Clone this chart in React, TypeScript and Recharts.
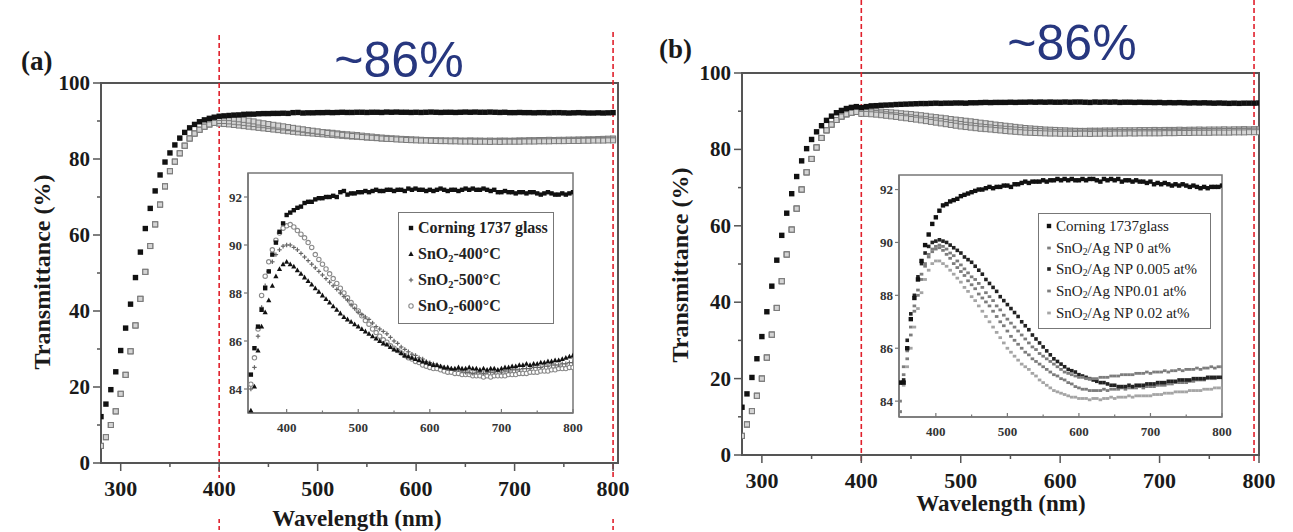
import React from 'react';
import { ScatterChart, Scatter, XAxis, YAxis, ReferenceLine, ReferenceArea } from 'recharts';

const SERIF = '"Liberation Serif", "Times New Roman", serif';
const SANS = '"Liberation Sans", Arial, sans-serif';
const AXIS = '#555';
const RED = '#e0202c';
const NAVY = '#27377f';

// wavelength grids (nm)
const riseWavelengths = [280, 285, 290, 295, 300, 305, 310, 315, 320, 325, 330, 335, 340, 345, 350, 355, 360, 365, 370, 375, 380, 385, 390, 395];
const insetWavelengths = [
  350, 355, 360, 365, 370, 375, 380, 385, 390, 395,
  400, 405, 410, 415, 420, 425, 430, 435, 440, 445,
  450, 455, 460, 465, 470, 475, 480, 485, 490, 495,
  500, 505, 510, 515, 520, 525, 530, 535, 540, 545,
  550, 555, 560, 565, 570, 575, 580, 585, 590, 595,
  600, 605, 610, 615, 620, 625, 630, 635, 640, 645,
  650, 655, 660, 665, 670, 675, 680, 685, 690, 695,
  700, 705, 710, 715, 720, 725, 730, 735, 740, 745,
  750, 755, 760, 765, 770, 775, 780, 785, 790, 795,
  800,
];

// ticks
const mainXTicks = [300, 350, 400, 450, 500, 550, 600, 650, 700, 750, 800];
const mainYTicks = [0, 10, 20, 30, 40, 50, 60, 70, 80, 90, 100];
const insetXTicks = [400, 450, 500, 550, 600, 650, 700, 750, 800];
const insetYTicks = [84, 86, 88, 90, 92];

// panel (a): absorption edge, main plot
const glassRiseA = [12.2, 15.5, 19.3, 24.0, 29.6, 35.5, 41.8, 48.8, 55.5, 61.7, 67.0, 71.6, 75.8, 79.2, 81.6, 83.7, 85.5, 87.0, 88.2, 89.1, 89.8, 90.3, 90.7, 91.0];
const filmRiseA = [4.5, 6.8, 10.0, 13.6, 18.2, 23.2, 29.4, 36.2, 43.2, 50.3, 57.1, 62.8, 68.0, 72.8, 76.8, 79.3, 81.5, 83.5, 85.4, 86.7, 87.7, 88.5, 89.1, 89.5];

// panel (a): inset values
const glassA = [
  84.6, 85.7, 86.6, 87.3, 88.2, 88.9, 89.6, 90.1, 90.55, 90.9,
  91.25, 91.35, 91.45, 91.55, 91.6, 91.75, 91.8, 91.8, 91.9, 91.95,
  91.95, 92.0, 92.0, 92.05, 92.0, 92.2, 92.25, 92.1, 92.15, 92.15,
  92.2, 92.2, 92.25, 92.2, 92.25, 92.3, 92.25, 92.25, 92.3, 92.3,
  92.25, 92.3, 92.3, 92.25, 92.35, 92.3, 92.35, 92.3, 92.3, 92.25,
  92.3, 92.25, 92.3, 92.35, 92.3, 92.25, 92.3, 92.3, 92.25, 92.3,
  92.35, 92.3, 92.35, 92.3, 92.3, 92.35, 92.3, 92.25, 92.3, 92.2,
  92.2, 92.25, 92.2, 92.2, 92.15, 92.2, 92.2, 92.15, 92.2, 92.2,
  92.15, 92.1, 92.15, 92.2, 92.15, 92.1, 92.1, 92.15, 92.1, 92.15,
  92.2,
];
const sno400 = [
  83.1, 84.1, 85.6, 86.6, 87.2, 87.7, 88.3, 88.7, 89.0, 89.2,
  89.3, 89.2, 89.1, 88.95, 88.8, 88.65, 88.5, 88.35, 88.2, 88.05,
  87.9, 87.75, 87.6, 87.45, 87.3, 87.15, 87.0, 86.9, 86.8, 86.7,
  86.6, 86.5, 86.4, 86.3, 86.2, 86.1, 86.0, 85.9, 85.85, 85.75,
  85.65, 85.6, 85.5, 85.4, 85.35, 85.3, 85.25, 85.2, 85.15, 85.1,
  85.05, 85.0, 85.0, 84.95, 84.9, 84.9, 84.85, 84.85, 84.9, 84.85,
  84.85, 84.9, 84.85, 84.85, 84.8, 84.85, 84.8, 84.85, 84.85, 84.8,
  84.85, 84.9, 84.9, 84.95, 84.95, 85.0, 85.0, 85.05, 85.0, 85.05,
  85.05, 85.1, 85.1, 85.15, 85.15, 85.2, 85.2, 85.25, 85.3, 85.35,
  85.4,
];
const sno500 = [
  84.0, 84.9, 86.2, 87.4, 88.3, 88.9, 89.3, 89.6, 89.8, 89.95,
  90.0, 90.0, 89.9, 89.8, 89.65, 89.5, 89.35, 89.2, 89.05, 88.9,
  88.75, 88.6, 88.45, 88.3, 88.15, 88.0, 87.85, 87.7, 87.5, 87.35,
  87.2, 87.1, 87.0, 86.9, 86.75, 86.6, 86.5, 86.4, 86.3, 86.15,
  86.0, 85.9, 85.75, 85.65, 85.55, 85.45, 85.4, 85.3, 85.25, 85.15,
  85.1, 85.05, 85.0, 84.95, 84.9, 84.85, 84.85, 84.8, 84.8, 84.75,
  84.7, 84.7, 84.65, 84.7, 84.7, 84.65, 84.7, 84.7, 84.7, 84.75,
  84.7, 84.75, 84.75, 84.8, 84.8, 84.8, 84.85, 84.85, 84.85, 84.9,
  84.9, 84.9, 84.95, 84.95, 85.0, 85.0, 85.0, 85.05, 85.05, 85.1,
  85.1,
];
const sno600 = [
  84.2, 85.3, 86.5, 87.9, 88.7, 89.3, 89.8, 90.2, 90.5, 90.7,
  90.8, 90.85, 90.75, 90.6, 90.45, 90.3, 90.1, 89.9, 89.6, 89.4,
  89.2, 89.0, 88.8, 88.6, 88.4, 88.2, 88.0, 87.8, 87.6, 87.45,
  87.25, 87.05, 86.85, 86.7, 86.5, 86.35, 86.2, 86.05, 85.95, 85.8,
  85.7, 85.6, 85.5, 85.4, 85.3, 85.25, 85.15, 85.1, 85.0, 84.95,
  84.9, 84.85, 84.85, 84.8, 84.75, 84.7, 84.7, 84.65, 84.65, 84.6,
  84.6, 84.6, 84.55, 84.55, 84.55, 84.5, 84.55, 84.5, 84.55, 84.55,
  84.55, 84.55, 84.6, 84.6, 84.6, 84.65, 84.65, 84.65, 84.7, 84.7,
  84.7, 84.75, 84.75, 84.75, 84.8, 84.8, 84.85, 84.85, 84.85, 84.9,
  84.9,
];

// panel (b): absorption edge, main plot
const glassRiseB = [12.5, 16.0, 20.3, 25.2, 31.0, 37.5, 44.2, 51.0, 57.5, 63.3, 68.4, 72.9, 77.0, 80.2, 82.6, 84.6, 86.2, 87.6, 88.7, 89.6, 90.2, 90.7, 91.0, 91.2];
const filmRiseB = [5.0, 8.0, 11.5, 15.5, 20.0, 25.5, 31.5, 38.5, 45.5, 52.5, 59.0, 64.5, 69.5, 74.0, 77.5, 80.5, 83.0, 85.0, 86.5, 87.7, 88.6, 89.2, 89.6, 89.8];

// panel (b): inset values
const glassB = [
  84.7, 84.7, 86.0, 87.1, 87.9, 88.6, 89.3, 89.9, 90.3, 90.7,
  90.95, 91.2, 91.4, 91.45, 91.55, 91.6, 91.65, 91.75, 91.8, 91.85,
  91.9, 91.95, 92.0, 92.0, 92.05, 92.1, 92.05, 92.1, 92.1, 92.15,
  92.15, 92.1, 92.2, 92.2, 92.25, 92.3, 92.25, 92.3, 92.3, 92.3,
  92.35, 92.3, 92.35, 92.35, 92.4, 92.35, 92.4, 92.35, 92.4, 92.35,
  92.35, 92.4, 92.35, 92.4, 92.4, 92.35, 92.3, 92.4, 92.35, 92.4,
  92.35, 92.4, 92.3, 92.35, 92.35, 92.3, 92.35, 92.3, 92.3, 92.25,
  92.3, 92.2, 92.25, 92.2, 92.25, 92.2, 92.15, 92.2, 92.15, 92.2,
  92.15, 92.1, 92.15, 92.1, 92.05, 92.1, 92.05, 92.1, 92.1, 92.1,
  92.15,
];
const ag0 = [
  84.0, 85.3, 85.9, 86.8, 87.6, 88.2, 88.8, 89.2, 89.55, 89.75,
  89.85, 89.9, 89.85, 89.75, 89.6, 89.5, 89.3, 89.15, 89.0, 88.85,
  88.7, 88.6, 88.45, 88.3, 88.1, 87.95, 87.8, 87.6, 87.45, 87.25,
  87.1, 86.95, 86.8, 86.65, 86.5, 86.35, 86.2, 86.05, 85.95, 85.8,
  85.7, 85.6, 85.5, 85.4, 85.3, 85.2, 85.1, 85.05, 85.0, 84.95,
  84.9, 84.9, 84.85, 84.85, 84.85, 84.85, 84.9, 84.9, 84.9, 84.95,
  84.95, 84.95, 85.0, 85.0, 85.0, 85.0, 85.05, 85.05, 85.05, 85.1,
  85.05, 85.1, 85.1, 85.1, 85.15, 85.1, 85.15, 85.15, 85.2, 85.15,
  85.2, 85.2, 85.2, 85.25, 85.2, 85.25, 85.25, 85.3, 85.25, 85.3,
  85.3,
];
const ag005 = [
  84.7, 84.8, 86.3, 87.3, 88.0, 88.7, 89.2, 89.6, 89.85, 90.0,
  90.05, 90.1, 90.05, 90.0, 89.9, 89.8, 89.7, 89.6, 89.45, 89.35,
  89.25, 89.1, 88.95, 88.8, 88.6, 88.45, 88.3, 88.15, 87.95, 87.8,
  87.65, 87.5, 87.35, 87.2, 87.0, 86.85, 86.7, 86.5, 86.35, 86.2,
  86.05, 85.9, 85.75, 85.6, 85.5, 85.4, 85.3, 85.2, 85.15, 85.1,
  85.0, 84.95, 84.9, 84.85, 84.8, 84.75, 84.7, 84.7, 84.65, 84.6,
  84.6, 84.55, 84.55, 84.55, 84.6, 84.55, 84.6, 84.6, 84.6, 84.65,
  84.65, 84.65, 84.7, 84.7, 84.7, 84.75, 84.75, 84.75, 84.8, 84.8,
  84.8, 84.8, 84.85, 84.85, 84.85, 84.85, 84.9, 84.9, 84.9, 84.9,
  84.9,
];
const ag01 = [
  83.6, 85.0, 85.6, 86.5, 87.4, 88.0, 88.6, 89.1, 89.45, 89.65,
  89.75, 89.8, 89.7, 89.55, 89.4, 89.2, 89.05, 88.9, 88.75, 88.55,
  88.4, 88.25, 88.05, 87.9, 87.75, 87.6, 87.4, 87.2, 87.0, 86.85,
  86.65, 86.45, 86.3, 86.15, 86.0, 85.85, 85.75, 85.6, 85.5, 85.4,
  85.3, 85.2, 85.1, 85.0, 84.95, 84.85, 84.8, 84.7, 84.65, 84.55,
  84.5, 84.45, 84.45, 84.4, 84.4, 84.4, 84.4, 84.45, 84.4, 84.45,
  84.45, 84.45, 84.5, 84.45, 84.5, 84.5, 84.5, 84.55, 84.5, 84.55,
  84.55, 84.55, 84.6, 84.6, 84.6, 84.65, 84.65, 84.7, 84.7, 84.7,
  84.7, 84.75, 84.75, 84.8, 84.8, 84.8, 84.85, 84.85, 84.85, 84.9,
  84.9,
];
const ag02 = [
  83.6, 84.6, 85.3, 86.0, 86.8, 87.5, 88.1, 88.6, 88.95, 89.2,
  89.3, 89.3, 89.2, 89.1, 88.95, 88.8, 88.65, 88.5, 88.3, 88.15,
  87.95, 87.8, 87.6, 87.4, 87.2, 87.0, 86.8, 86.6, 86.4, 86.2,
  86.0, 85.85, 85.7, 85.55, 85.4, 85.3, 85.2, 85.05, 84.95, 84.8,
  84.7, 84.6, 84.5, 84.4, 84.35, 84.3, 84.25, 84.2, 84.15, 84.15,
  84.1, 84.1, 84.1, 84.05, 84.1, 84.1, 84.05, 84.1, 84.1, 84.15,
  84.1, 84.15, 84.15, 84.15, 84.2, 84.15, 84.2, 84.2, 84.2, 84.2,
  84.2, 84.25, 84.25, 84.25, 84.3, 84.3, 84.3, 84.35, 84.35, 84.35,
  84.35, 84.4, 84.4, 84.4, 84.4, 84.45, 84.45, 84.45, 84.5, 84.5,
  84.5,
];

type Pt = { x: number; y: number };
const pts = (xs: number[], ys: number[]): Pt[] => xs.map((x, i) => ({ x, y: ys[i] }));
const mainPts = (rise: number[], inset: number[]): Pt[] => [
  ...pts(riseWavelengths, rise),
  ...pts(insetWavelengths, inset).filter((p) => p.x >= 400),
];

type Kind = 'mainGlass' | 'mainFilm' | 'sq' | 'tri' | 'plus' | 'circ' | 'dark' | 'gray' | 'lightGray';

function drawMarker(kind: Kind, cx: number, cy: number) {
  switch (kind) {
    case 'mainGlass':
      return <rect x={cx - 2.7} y={cy - 2.7} width={5.4} height={5.4} fill="#111" />;
    case 'mainFilm':
      return <rect x={cx - 2.5} y={cy - 2.5} width={5} height={5} fill="#d4d4d4" stroke="#7a7a7a" strokeWidth={1} />;
    case 'sq':
      return <rect x={cx - 2.2} y={cy - 2.2} width={4.4} height={4.4} fill="#111" />;
    case 'tri':
      return <path d={`M${cx},${cy - 2.8}L${cx + 2.6},${cy + 2}L${cx - 2.6},${cy + 2}Z`} fill="#111" />;
    case 'plus':
      return (
        <g stroke="#666" strokeWidth={1.2}>
          <line x1={cx - 2.2} x2={cx + 2.2} y1={cy} y2={cy} />
          <line x1={cx} x2={cx} y1={cy - 2.2} y2={cy + 2.2} />
        </g>
      );
    case 'circ':
      return <circle cx={cx} cy={cy} r={2.2} fill="#fff" stroke="#8a8a8a" strokeWidth={1.1} />;
    case 'dark':
      return <rect x={cx - 1.8} y={cy - 1.8} width={3.6} height={3.6} fill="#222" />;
    case 'gray':
      return <rect x={cx - 1.8} y={cy - 1.4} width={3.6} height={2.8} fill="#7d7d7d" />;
    default:
      return <rect x={cx - 1.8} y={cy - 1.4} width={3.6} height={2.8} fill="#a5a5a5" />;
  }
}
const shapeOf = (kind: Kind) => (p: any) => drawMarker(kind, p.cx, p.cy);

// series lists
const insetSeriesA = [
  { name: 'Corning 1737 glass', values: glassA, kind: 'sq' as Kind },
  { name: 'SnO2-400°C', values: sno400, kind: 'tri' as Kind },
  { name: 'SnO2-500°C', values: sno500, kind: 'plus' as Kind },
  { name: 'SnO2-600°C', values: sno600, kind: 'circ' as Kind },
];
const insetSeriesB = [
  { name: 'Corning 1737glass', values: glassB, kind: 'sq' as Kind },
  { name: 'SnO2/Ag NP 0 at%', values: ag0, kind: 'gray' as Kind },
  { name: 'SnO2/Ag NP 0.005 at%', values: ag005, kind: 'dark' as Kind },
  { name: 'SnO2/Ag NP0.01 at%', values: ag01, kind: 'gray' as Kind },
  { name: 'SnO2/Ag NP 0.02 at%', values: ag02, kind: 'lightGray' as Kind },
];

const MainXTick = (p: any) => {
  const v = p.payload.value;
  const major = v % 100 === 0;
  return (
    <g>
      <line x1={p.x} x2={p.x} y1={p.y} y2={p.y + (major ? 8 : 4)} stroke={AXIS} strokeWidth={1.5} />
      {major && (
        <text x={p.x} y={p.y + 33} textAnchor="middle" fontFamily={SERIF} fontWeight="bold" fontSize={22} fill="#1a1a1a">{v}</text>
      )}
    </g>
  );
};
const MainYTick = (p: any) => {
  const v = p.payload.value;
  const major = v % 20 === 0;
  return (
    <g>
      <line x1={p.x - (major ? 8 : 4)} x2={p.x} y1={p.y} y2={p.y} stroke={AXIS} strokeWidth={1.5} />
      {major && (
        <text x={p.x - 11} y={p.y + 7} textAnchor="end" fontFamily={SERIF} fontWeight="bold" fontSize={21} fill="#1a1a1a">{v}</text>
      )}
    </g>
  );
};
const InsetXTick = (p: any) => {
  const v = p.payload.value;
  const major = v % 100 === 0;
  return (
    <g>
      <line x1={p.x} x2={p.x} y1={p.y} y2={p.y - (major ? 4 : 2.5)} stroke="#777" strokeWidth={1.2} />
      {major && (
        <text x={p.x} y={p.y + 19} textAnchor="middle" fontFamily={SERIF} fontWeight="bold" fontSize={13} fill="#333">{v}</text>
      )}
    </g>
  );
};
const InsetYTick = (p: any) => (
  <g>
    <line x1={p.x - 4} x2={p.x} y1={p.y} y2={p.y} stroke="#777" strokeWidth={1.2} />
    <text x={p.x - 6} y={p.y + 4.5} textAnchor="end" fontFamily={SERIF} fontWeight="bold" fontSize={13} fill="#333">{p.payload.value}</text>
  </g>
);

const redLine = (top: number, bottom: number, tail?: [number, number]) => (p: any) => (
  <g>
    <line x1={p.x1} x2={p.x1} y1={top} y2={bottom} stroke={RED} strokeWidth={1.6} strokeDasharray="5 3" />
    {tail && <line x1={p.x1} x2={p.x1} y1={tail[0]} y2={tail[1]} stroke={RED} strokeWidth={1.6} strokeDasharray="4 3" />}
  </g>
);

function nameWithSub(name: string) {
  const i = name.indexOf('SnO2');
  if (i < 0) return <>{name}</>;
  return (
    <>
      {name.slice(0, i)}SnO<sub style={{ fontSize: '0.65em', verticalAlign: '-0.25em' }}>2</sub>{name.slice(i + 4)}
    </>
  );
}

type LegendProps = {
  series: { name: string; kind: Kind }[];
  left: number; top: number; width: number; height: number;
  rowTop: number; rowGap: number; markerX: number; textX: number;
  fontSize: number; bold: boolean;
};
const InsetLegend = ({ series, left, top, width, height, rowTop, rowGap, markerX, textX, fontSize, bold }: LegendProps) => (
  <div style={{ position: 'absolute', left, top, width, height, border: '1.5px solid #777', background: '#fff', overflow: 'hidden', boxSizing: 'border-box' }}>
    {series.map((s, i) => (
      <div key={s.name} style={{ position: 'absolute', left: 0, top: rowTop + i * rowGap - 10, height: 20, width: width + 40 }}>
        <svg width={10} height={10} style={{ position: 'absolute', left: markerX - 5, top: 5 }}>
          {drawMarker(s.kind, 5, 5)}
        </svg>
        <span style={{ position: 'absolute', left: textX, top: 0, lineHeight: '20px', whiteSpace: 'nowrap', fontFamily: SERIF, fontSize, fontWeight: bold ? 'bold' : 'normal', color: '#222' }}>
          {nameWithSub(s.name)}
        </span>
      </div>
    ))}
  </div>
);

const mainAxisProps = { tickSize: 0, tickMargin: 0, tickLine: false, interval: 0 as const, allowDataOverflow: true, axisLine: { stroke: AXIS, strokeWidth: 2 } };
const insetAxisProps = { tickSize: 0, tickMargin: 0, tickLine: false, interval: 0 as const, allowDataOverflow: true, axisLine: { stroke: '#777', strokeWidth: 1.5 } };

export default function App() {
  return (
    <div style={{ position: 'absolute', left: 0, top: 0, width: 1293, height: 532, background: '#fff', overflow: 'hidden' }}>
      {/* panel (a) main */}
      <div style={{ position: 'absolute', left: 0, top: 0 }}>
        <ScatterChart width={640} height={532} margin={{ top: 83, right: 22, bottom: 0, left: 0 }}>
          <XAxis type="number" dataKey="x" domain={[280, 805]} ticks={mainXTicks} height={69} tick={(p: any) => <MainXTick {...p} />} {...mainAxisProps} />
          <YAxis type="number" dataKey="y" domain={[0, 100]} ticks={mainYTicks} width={101} tick={(p: any) => <MainYTick {...p} />} {...mainAxisProps} />
          <ReferenceArea x1={280} x2={805} y1={0} y2={100} fill="none" stroke={AXIS} strokeWidth={2} />
          {insetSeriesA.slice(1).map((s) => (
            <Scatter key={s.name} name={s.name} data={mainPts(filmRiseA, s.values)} shape={shapeOf('mainFilm')} isAnimationActive={false} />
          ))}
          <Scatter name="glass" data={mainPts(glassRiseA, glassA)} shape={shapeOf('mainGlass')} isAnimationActive={false} />
          <ReferenceLine x={400} shape={redLine(35, 478, [519, 530])} />
          <ReferenceLine x={800} shape={redLine(32, 478, [519, 530])} />
        </ScatterChart>
      </div>

      {/* panel (a) inset */}
      <div style={{ position: 'absolute', left: 200, top: 160 }}>
        <ScatterChart width={390} height={285} margin={{ top: 13, right: 17, bottom: 0, left: 0 }}>
          <XAxis type="number" dataKey="x" domain={[346, 800]} ticks={insetXTicks} height={32} tick={(p: any) => <InsetXTick {...p} />} {...insetAxisProps} />
          <YAxis type="number" dataKey="y" domain={[83, 93]} ticks={insetYTicks} width={48} tick={(p: any) => <InsetYTick {...p} />} {...insetAxisProps} />
          <ReferenceArea x1={346} x2={800} y1={83} y2={93} fill="none" stroke="#777" strokeWidth={1.5} />
          {insetSeriesA.slice().reverse().map((s) => (
            <Scatter key={s.name} name={s.name} data={pts(insetWavelengths, s.values)} shape={shapeOf(s.kind)} isAnimationActive={false} />
          ))}
        </ScatterChart>
      </div>
      <InsetLegend series={insetSeriesA} left={398} top={212} width={156} height={112} rowTop={15} rowGap={26} markerX={12} textX={19} fontSize={16} bold />

      {/* panel (b) main */}
      <div style={{ position: 'absolute', left: 640, top: 0 }}>
        <ScatterChart width={653} height={532} margin={{ top: 73, right: 34, bottom: 0, left: 0 }}>
          <XAxis type="number" dataKey="x" domain={[280, 800]} ticks={mainXTicks} height={77} tick={(p: any) => <MainXTick {...p} />} {...mainAxisProps} />
          <YAxis type="number" dataKey="y" domain={[0, 100]} ticks={mainYTicks} width={102} tick={(p: any) => <MainYTick {...p} />} {...mainAxisProps} />
          <ReferenceArea x1={280} x2={800} y1={0} y2={100} fill="none" stroke={AXIS} strokeWidth={2} />
          {insetSeriesB.slice(1).map((s) => (
            <Scatter key={s.name} name={s.name} data={mainPts(filmRiseB, s.values)} shape={shapeOf('mainFilm')} isAnimationActive={false} />
          ))}
          <Scatter name="glass" data={mainPts(glassRiseB, glassB)} shape={shapeOf('mainGlass')} isAnimationActive={false} />
          <ReferenceLine x={400} shape={redLine(0, 463)} />
          <ReferenceLine x={795} shape={redLine(0, 463)} />
        </ScatterChart>
      </div>

      {/* panel (b) inset */}
      <div style={{ position: 'absolute', left: 850, top: 160 }}>
        <ScatterChart width={390} height={290} margin={{ top: 15, right: 18, bottom: 0, left: 0 }}>
          <XAxis type="number" dataKey="x" domain={[348.5, 800]} ticks={insetXTicks} height={33} tick={(p: any) => <InsetXTick {...p} />} {...insetAxisProps} />
          <YAxis type="number" dataKey="y" domain={[83.4, 92.55]} ticks={insetYTicks} width={49} tick={(p: any) => <InsetYTick {...p} />} {...insetAxisProps} />
          <ReferenceArea x1={348.5} x2={800} y1={83.4} y2={92.55} fill="none" stroke="#777" strokeWidth={1.5} />
          {insetSeriesB.slice().reverse().map((s) => (
            <Scatter key={s.name} name={s.name} data={pts(insetWavelengths, s.values)} shape={shapeOf(s.kind)} isAnimationActive={false} />
          ))}
        </ScatterChart>
      </div>
      <InsetLegend series={insetSeriesB} left={1038} top={213} width={173} height={116} rowTop={12} rowGap={21.7} markerX={10} textX={17} fontSize={15} bold={false} />

      {/* titles and labels */}
      <svg width={1293} height={532} style={{ position: 'absolute', left: 0, top: 0, pointerEvents: 'none' }}>
        <text x={21} y={70} fontFamily={SERIF} fontWeight="bold" fontSize={27} fill="#1a1a1a">(a)</text>
        <text x={399} y={77} textAnchor="middle" fontFamily={SANS} fontSize={50} fill={NAVY}>~86%</text>
        <text x={42} y={272} transform="rotate(-90 42 272)" textAnchor="middle" dominantBaseline="central" fontFamily={SERIF} fontWeight="bold" fontSize={24} fill="#1a1a1a">Transmittance (%)</text>
        <text x={357} y={526} textAnchor="middle" fontFamily={SERIF} fontWeight="bold" fontSize={23} fill="#1a1a1a">Wavelength (nm)</text>

        <text x={659} y={58} fontFamily={SERIF} fontWeight="bold" fontSize={27} fill="#1a1a1a">(b)</text>
        <text x={1072} y={60} textAnchor="middle" fontFamily={SANS} fontSize={50} fill={NAVY}>~86%</text>
        <text x={680} y={265} transform="rotate(-90 680 265)" textAnchor="middle" dominantBaseline="central" fontFamily={SERIF} fontWeight="bold" fontSize={24} fill="#1a1a1a">Transmittance (%)</text>
        <text x={1001} y={511} textAnchor="middle" fontFamily={SERIF} fontWeight="bold" fontSize={23} fill="#1a1a1a">Wavelength (nm)</text>
      </svg>
    </div>
  );
}
